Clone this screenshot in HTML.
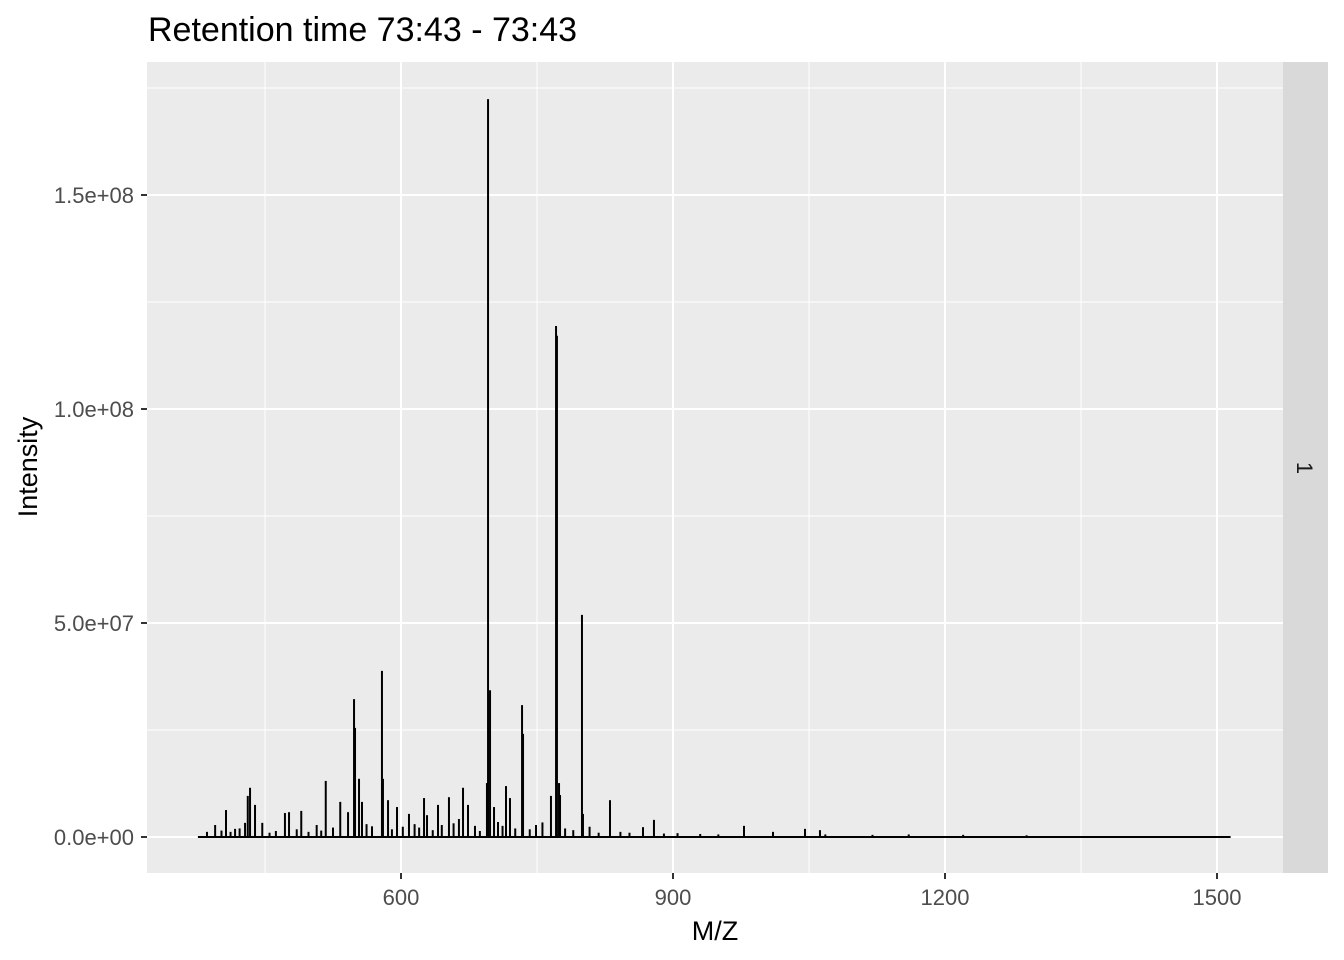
<!DOCTYPE html>
<html><head><meta charset="utf-8">
<style>
body{margin:0;background:#fff;font-family:"Liberation Sans",Arial,sans-serif;}
svg{display:block}
</style></head>
<body>
<svg id="chart" width="1344" height="960" xmlns="http://www.w3.org/2000/svg">
<rect width="1344" height="960" fill="#fff"/>
<text x="148" y="41" font-size="34" fill="#000">Retention time 73:43 - 73:43</text>
<rect x="147" y="62" width="1136" height="811" fill="#ebebeb"/>
<g id="grid"></g>
<g id="marks"></g>
<rect x="1283" y="62" width="45" height="811" fill="#d9d9d9"/>
<text x="1297" y="468" font-size="22" fill="#1a1a1a" transform="rotate(90 1297 468)" text-anchor="middle">1</text>
<g id="axes"></g>
<text x="715" y="940" font-size="27" text-anchor="middle" fill="#000">M/Z</text>
<text x="37" y="467" font-size="27" text-anchor="middle" fill="#000" transform="rotate(-90 37 467)">Intensity</text>
</svg>
<script>
const xTicks=[600,900,1200,1500];
const xMinor=[450,750,1050,1350];
const yTicks=[0,5e7,1e8,1.5e8];
const yTickLabels=["0.0e+00","5.0e+07","1.0e+08","1.5e+08"];
const yMinor=[2.5e7,7.5e7,1.25e8,1.75e8];
const mzRange=[376,1515];
const peakMz=[386,395,407,417,428,431,433.5,439,447,472,476.5,490,507,517,533,541.6,548.2,549.3,553.7,557,579,580.1,585.7,595.6,608.8,625.4,628.7,640.8,652.9,663.9,668.4,673.9,681.6,694.8,696,698.2,702.6,707,715.8,720.2,733.5,734.6,748.9,765.4,771,772,774.3,775.4,799.6,800.7,830.5,866.9,879,978.3,1010.3,1045.6,1062.1,402,412,422,455,462,485,498,512,525,562,568,590,602,615,620,635,645,658,687,712,726,742,756,781,790,808,818,842,852,890,905,930,950,1068,1120,1160,1220,1290];
const peakInt=[1.2,2.8,6.3,1.9,3.3,9.6,11.5,7.5,3.3,5.6,5.8,6.1,2.8,13.1,8.2,5.8,32.2,25.5,13.6,8.2,38.8,13.6,8.6,7.0,5.4,9.1,5.1,7.5,9.3,4.2,11.5,7.5,2.6,12.6,172.4,34.3,7.0,3.5,11.9,9.1,30.8,24.1,2.8,9.6,119.4,117.1,12.6,9.8,51.9,5.4,8.6,2.3,4.0,2.6,1.2,1.9,1.6,1.5,1.2,2.0,1.0,1.4,1.8,1.2,1.5,2.2,3.0,2.5,1.8,2.4,3.0,2.2,1.6,2.8,3.2,1.4,2.6,2.0,1.8,3.4,2.0,1.6,2.4,1.0,1.2,1.0,0.8,0.9,0.7,0.6,0.6,0.5,0.6,0.5,0.4];
const NS="http://www.w3.org/2000/svg";
const X=v=>401+(v-600)*272/300;
const Y=v=>837-v*214/5e7;
function mk(tag,attrs,parent){const e=document.createElementNS(NS,tag);for(const k in attrs)e.setAttribute(k,attrs[k]);parent.appendChild(e);return e;}
const grid=document.getElementById('grid'),marks=document.getElementById('marks'),axes=document.getElementById('axes');
yMinor.forEach(v=>{const l=mk('line',{x1:147,x2:1283,y1:Y(v),y2:Y(v),stroke:'#fff','stroke-width':1},grid);

});
xMinor.forEach(v=>{const l=mk('line',{x1:X(v),x2:X(v),y1:62,y2:873,stroke:'#fff','stroke-width':1},grid);

});
yTicks.forEach((v,i)=>{const l=mk('line',{x1:147,x2:1283,y1:Y(v),y2:Y(v),stroke:'#fff','stroke-width':2},grid);


const t=mk('line',{x1:141,x2:147,y1:Y(v),y2:Y(v),stroke:'#333','stroke-width':2},axes);


const tx=mk('text',{x:134,y:Y(v)+8,'font-size':22,'text-anchor':'end',fill:'#4d4d4d'},axes);tx.textContent=yTickLabels[i];

});
xTicks.forEach(v=>{const l=mk('line',{x1:X(v),x2:X(v),y1:62,y2:873,stroke:'#fff','stroke-width':2},grid);


const t=mk('line',{x1:X(v),x2:X(v),y1:873,y2:879,stroke:'#333','stroke-width':2},axes);


const tx=mk('text',{x:X(v),y:905,'font-size':22,'text-anchor':'middle',fill:'#4d4d4d'},axes);tx.textContent=v;

});
const base=mk('line',{x1:X(mzRange[0]),x2:X(mzRange[1]),y1:Y(0),y2:Y(0),stroke:'#000','stroke-width':2},marks);


peakMz.forEach((m,i)=>{const l=mk('line',{x1:X(m),x2:X(m),y1:Y(0),y2:Y((peakInt[i]||0)*1e6),stroke:'#000','stroke-width':2},marks);

});
</script>
</body></html>
